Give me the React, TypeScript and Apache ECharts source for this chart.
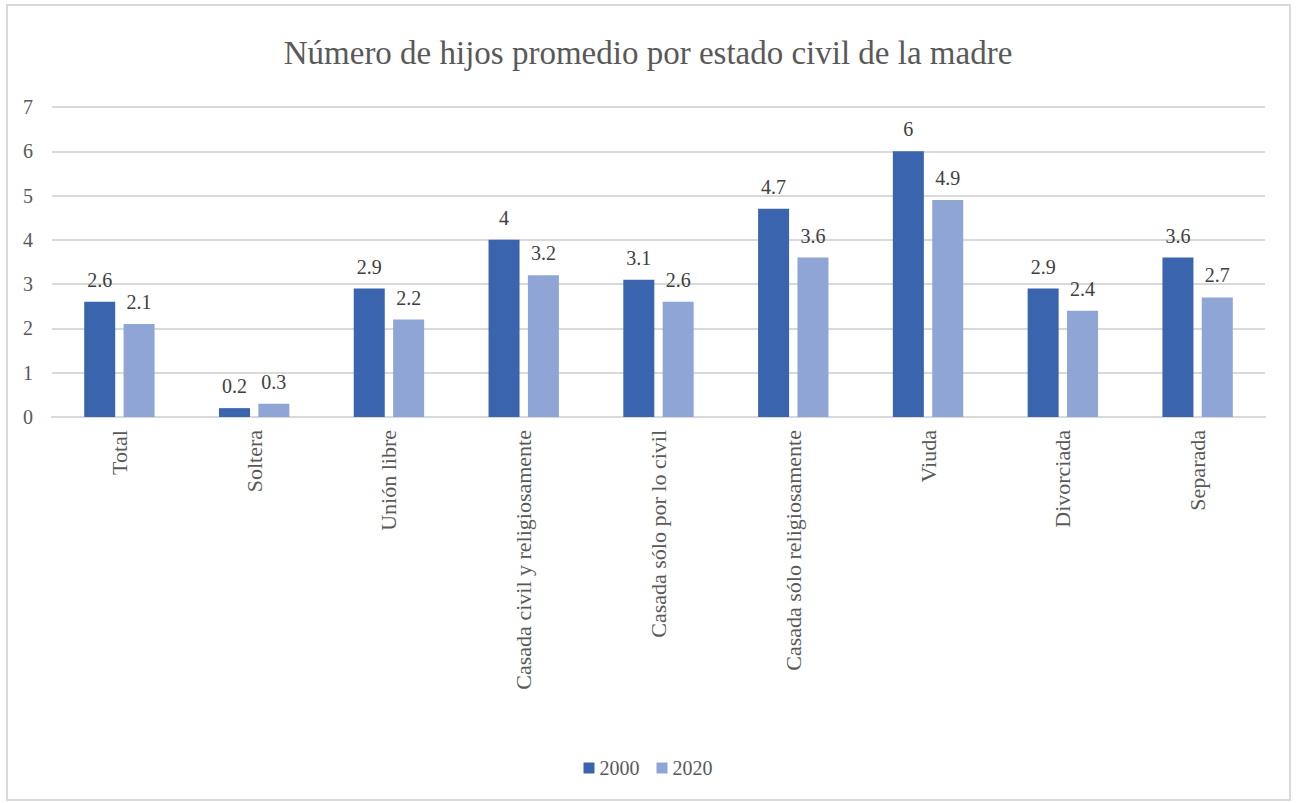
import React, { useEffect, useRef } from "react";
import * as echarts from "echarts";

const categories = [
  "Total",
  "Soltera",
  "Unión libre",
  "Casada civil y religiosamente",
  "Casada sólo por lo civil",
  "Casada sólo religiosamente",
  "Viuda",
  "Divorciada",
  "Separada",
];
const values2000 = [2.6, 0.2, 2.9, 4, 3.1, 4.7, 6, 2.9, 3.6];
const values2020 = [2.1, 0.3, 2.2, 3.2, 2.6, 3.6, 4.9, 2.4, 2.7];
const seriesNames = ["2000", "2020"];
const title = "Número de hijos promedio por estado civil de la madre";

const FONT = "'Liberation Serif', 'Times New Roman', serif";

export default function App() {
  const ref = useRef<HTMLDivElement>(null);
  useEffect(() => {
    if (!ref.current) return;
    const chart = echarts.init(ref.current, null, { renderer: "svg" });
    const barLabel = {
      show: true,
      position: "top",
      distance: 12,
      fontFamily: FONT,
      fontSize: 20,
      color: "#404040",
    };
    chart.setOption({
      animation: false,
      backgroundColor: "#ffffff",
      textStyle: { fontFamily: FONT },
      title: {
        text: title,
        left: "center",
        top: 31,
        textStyle: { fontFamily: FONT, fontSize: 33, fontWeight: "normal", color: "#595959" },
      },
      graphic: [
        {
          type: "rect",
          shape: { x: 7, y: 5, width: 1283, height: 795 },
          style: { fill: "none", stroke: "#d9d9d9", lineWidth: 2 },
          silent: true,
        },
      ],
      legend: {
        data: seriesNames,
        bottom: 20,
        left: "center",
        itemWidth: 11,
        itemHeight: 11,
        itemGap: 17,
        icon: "rect",
        textStyle: { fontFamily: FONT, fontSize: 20, color: "#595959" },
      },
      grid: { left: 52, right: 31, top: 107, bottom: 386, containLabel: false },
      xAxis: {
        type: "category",
        data: categories,
        axisLine: { lineStyle: { color: "#d9d9d9", width: 2 } },
        axisTick: { show: false },
        axisLabel: {
          rotate: 90,
          interval: 0,
          margin: 13,
          fontFamily: FONT,
          fontSize: 22,
          color: "#595959",
        },
      },
      yAxis: {
        type: "value",
        min: 0,
        max: 7,
        interval: 1,
        axisLine: { show: false },
        axisTick: { show: false },
        splitLine: { lineStyle: { color: "#d9d9d9", width: 2 } },
        axisLabel: { fontFamily: FONT, fontSize: 20, color: "#595959", margin: 19 },
      },
      series: [
        {
          name: seriesNames[0],
          type: "bar",
          data: values2000,
          barWidth: 31,
          barGap: "27%",
          itemStyle: { color: "#3a64ae" },
          label: barLabel,
        },
        {
          name: seriesNames[1],
          type: "bar",
          data: values2020,
          barWidth: 31,
          itemStyle: { color: "#8fa5d6" },
          label: barLabel,
        },
      ],
    });
    return () => chart.dispose();
  }, []);
  return (
    <div
      ref={ref}
      style={{ position: "absolute", left: 0, top: 0, width: 1296, height: 803 }}
    />
  );
}
